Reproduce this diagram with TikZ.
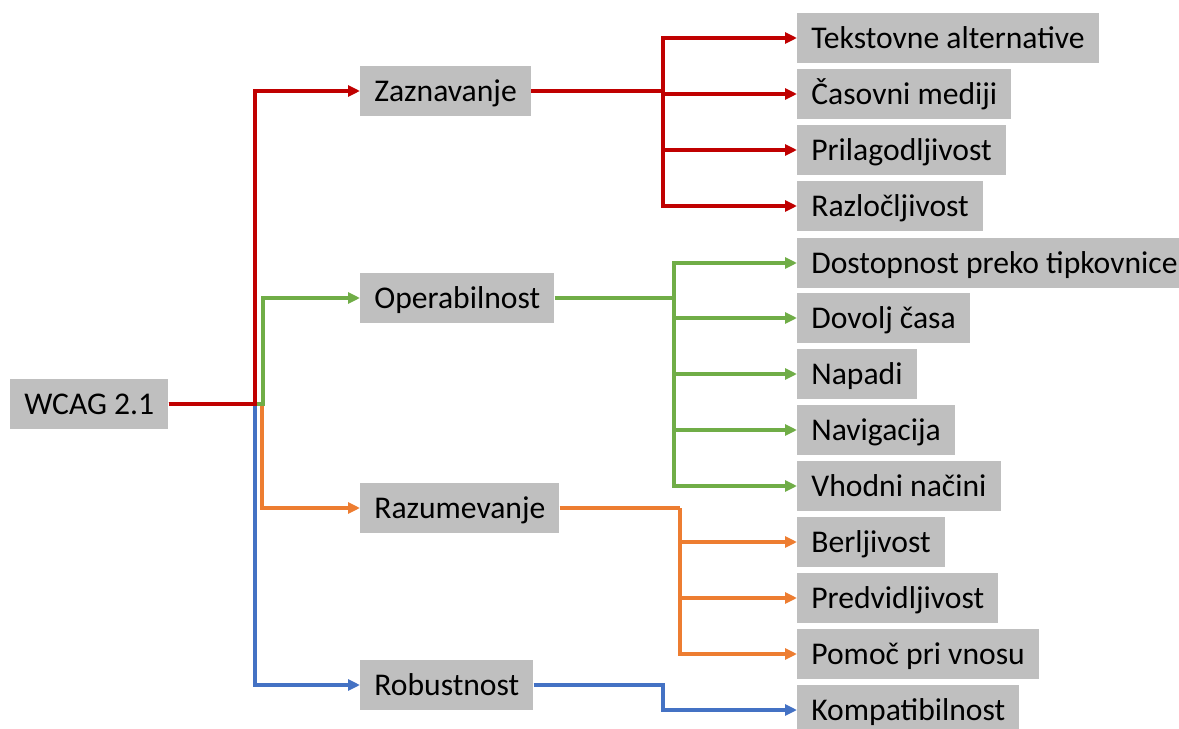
\documentclass[tikz,border=0pt]{standalone}
\usepackage{fontspec}
\setmainfont{Carlito}
\usetikzlibrary{positioning}
\usetikzlibrary{arrows.meta}
\definecolor{wred}{HTML}{C00000}
\definecolor{wgreen}{HTML}{70AD47}
\definecolor{worange}{HTML}{ED7D31}
\definecolor{wblue}{HTML}{4472C4}
\definecolor{wgray}{HTML}{BFBFBF}
\tikzstyle{box} = [rectangle,
anchor=west,
minimum height=1cm,
inner xsep=0.28cm,
text height=13pt, text depth=1.4pt,
fill=wgray,
font=\fontsize{18}{20}\selectfont]
\tikzstyle{link} = [line width=0.065cm]
\tikzstyle{arrow} = [link, -{Triangle[length=0.24cm, width=0.22cm]}]

\begin{document}
\begin{tikzpicture}[x=0.02cm, y=-0.02cm]
            \useasboundingbox (0,0) rectangle (1179,729);
            % root and principles
            \node (wcag) [box] at (10,404) {WCAG 2.1};
            \node (zaz) [box] at (360,91) {Zaznavanje};
            \node (ope) [box] at (360,298) {Operabilnost};
            \node (razu) [box] at (360,508) {Razumevanje};
            \node (rob) [box] at (360,685) {Robustnost};

            % guidelines
            \node (tek) [box] at (797,38) {Tekstovne alternative};
            \node (cas) [box] at (797,94) {Časovni mediji};
            \node (pri) [box] at (797,150) {Prilagodljivost};
            \node (razl) [box] at (797,206) {Razločljivost};
            \node (dos) [box] at (797,263) {Dostopnost preko tipkovnice};
            \node (dov) [box] at (797,318) {Dovolj časa};
            \node (nap) [box] at (797,374) {Napadi};
            \node (nav) [box] at (797,430) {Navigacija};
            \node (vho) [box] at (797,486) {Vhodni načini};
            \node (ber) [box] at (797,542) {Berljivost};
            \node (pre) [box] at (797,598) {Predvidljivost};
            \node (pom) [box] at (797,654) {Pomoč pri vnosu};
            \node (kom) [box] at (797,710) {Kompatibilnost};

            % bend points
            \coordinate (jz) at (255,404);
            \coordinate (jo) at (263,404);
            \coordinate (jr) at (262,404);
            \coordinate (kz) at (663,91);
            \coordinate (ko) at (674,298);
            \coordinate (kr) at (680,508);
            \coordinate (kb) at (663,685);

            \draw [arrow, worange] (wcag.east) -- (jr) |- (razu.west);
            \draw [arrow, wgreen] (wcag.east) -- (jo) |- (ope.west);
            \draw [arrow, wblue] (wcag.east) -- (jz) |- (rob.west);
            \draw [arrow, wred] (wcag.east) -- (jz) |- (zaz.west);

            \draw [link, wred] (zaz.east) -- (kz);
            \foreach \g in {tek, cas, pri, razl}
                \draw [arrow, wred] (kz) |- (\g.west);
            \draw [link, wgreen] (ope.east) -- (ko);
            \foreach \g in {dos, dov, nap, nav, vho}
                \draw [arrow, wgreen] (ko) |- (\g.west);
            \draw [link, worange] (razu.east) -- (kr);
            \foreach \g in {ber, pre, pom}
                \draw [arrow, worange] (kr) |- (\g.west);
            \draw [arrow, wblue] (rob.east) -- (kb) |- (kom.west);
        \end{tikzpicture}
\end{document}
